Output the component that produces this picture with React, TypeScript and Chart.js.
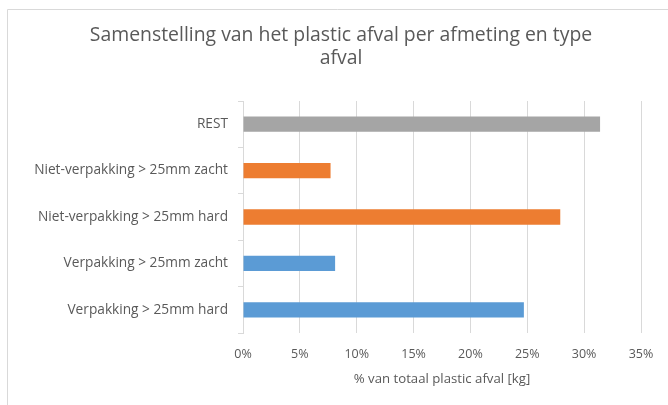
import React, { useEffect, useRef } from "react";
import { Chart, registerables } from "chart.js";

Chart.register(...registerables);

const categories = [
  "REST",
  "Niet-verpakking > 25mm zacht",
  "Niet-verpakking > 25mm hard",
  "Verpakking > 25mm zacht",
  "Verpakking > 25mm hard",
];
const values = [31.4, 7.7, 27.9, 8.1, 24.7];
const barColors = ["#a5a5a5", "#ed7d31", "#ed7d31", "#5b9bd5", "#5b9bd5"];
const titleLines = ["Samenstelling van het plastic afval per afmeting en type", "afval"];
const xAxisTitle = "% van totaal plastic afval [kg]";
const xMax = 35;
const xStep = 5;

const borderPlugin = {
  id: "outerBorder",
  beforeDraw(chart: any) {
    const ctx = chart.ctx;
    ctx.save();
    ctx.strokeStyle = "#d9d9d9";
    ctx.lineWidth = 1;
    ctx.beginPath();
    ctx.moveTo(7.5, chart.height);
    ctx.lineTo(7.5, 9.5);
    ctx.lineTo(chart.width, 9.5);
    ctx.stroke();
    ctx.restore();
  },
};

const titlePlugin = {
  id: "centeredTitle",
  afterDraw(chart: any) {
    const ctx = chart.ctx;
    ctx.save();
    ctx.fillStyle = "#595959";
    ctx.font = "19.4px 'Open Sans'";
    ctx.textAlign = "center";
    ctx.textBaseline = "middle";
    titleLines.forEach((line, i) => {
      ctx.fillText(line, 341, 35 + i * 23);
    });
    ctx.restore();
  },
};

export default function App() {
  const ref = useRef<HTMLCanvasElement | null>(null);
  useEffect(() => {
    if (!ref.current) return;
    const chart = new Chart(ref.current, {
      type: "bar",
      data: {
        labels: categories,
        datasets: [
          {
            data: values,
            backgroundColor: barColors,
            categoryPercentage: 1,
            barPercentage: 0.33,
          },
        ],
      },
      options: {
        indexAxis: "y",
        animation: false,
        responsive: false,
        maintainAspectRatio: false,
        layout: { padding: { top: 101, right: 27, left: 10, bottom: 10 } },
        plugins: {
          legend: { display: false },
          tooltip: { enabled: false },
          title: { display: false },
        },
        scales: {
          x: {
            min: 0,
            max: xMax,
            ticks: {
              stepSize: xStep,
              callback: (v: any) => v + "%",
              color: "#595959",
              font: { family: "Open Sans", size: 12.5 },
              padding: 14,
            },
            grid: { color: "#d9d9d9", drawTicks: false },
            border: { display: false },
            title: {
              display: true,
              text: xAxisTitle,
              color: "#595959",
              font: { family: "Open Sans", size: 13.2 },
              padding: { top: 4, bottom: 8 },
            },
            afterFit: (scale: any) => {
              scale.height = 62;
            },
          },
          y: {
            ticks: {
              color: "#595959",
              font: { family: "Open Sans", size: 13.7 },
              padding: 10,
            },
            grid: {
              drawOnChartArea: false,
              drawTicks: true,
              tickLength: 5,
              color: "#d9d9d9",
              offset: true,
            },
            border: { display: true, color: "#d9d9d9" },
            afterFit: (scale: any) => {
              scale.width = 233;
            },
          },
        },
      },
      plugins: [borderPlugin, titlePlugin],
    });
    return () => chart.destroy();
  }, []);
  return (
    <div style={{ position: "absolute", left: 0, top: 0, width: 668, height: 405, background: "#fff" }}>
      <canvas ref={ref} width={668} height={405} style={{ display: "block" }} />
    </div>
  );
}
